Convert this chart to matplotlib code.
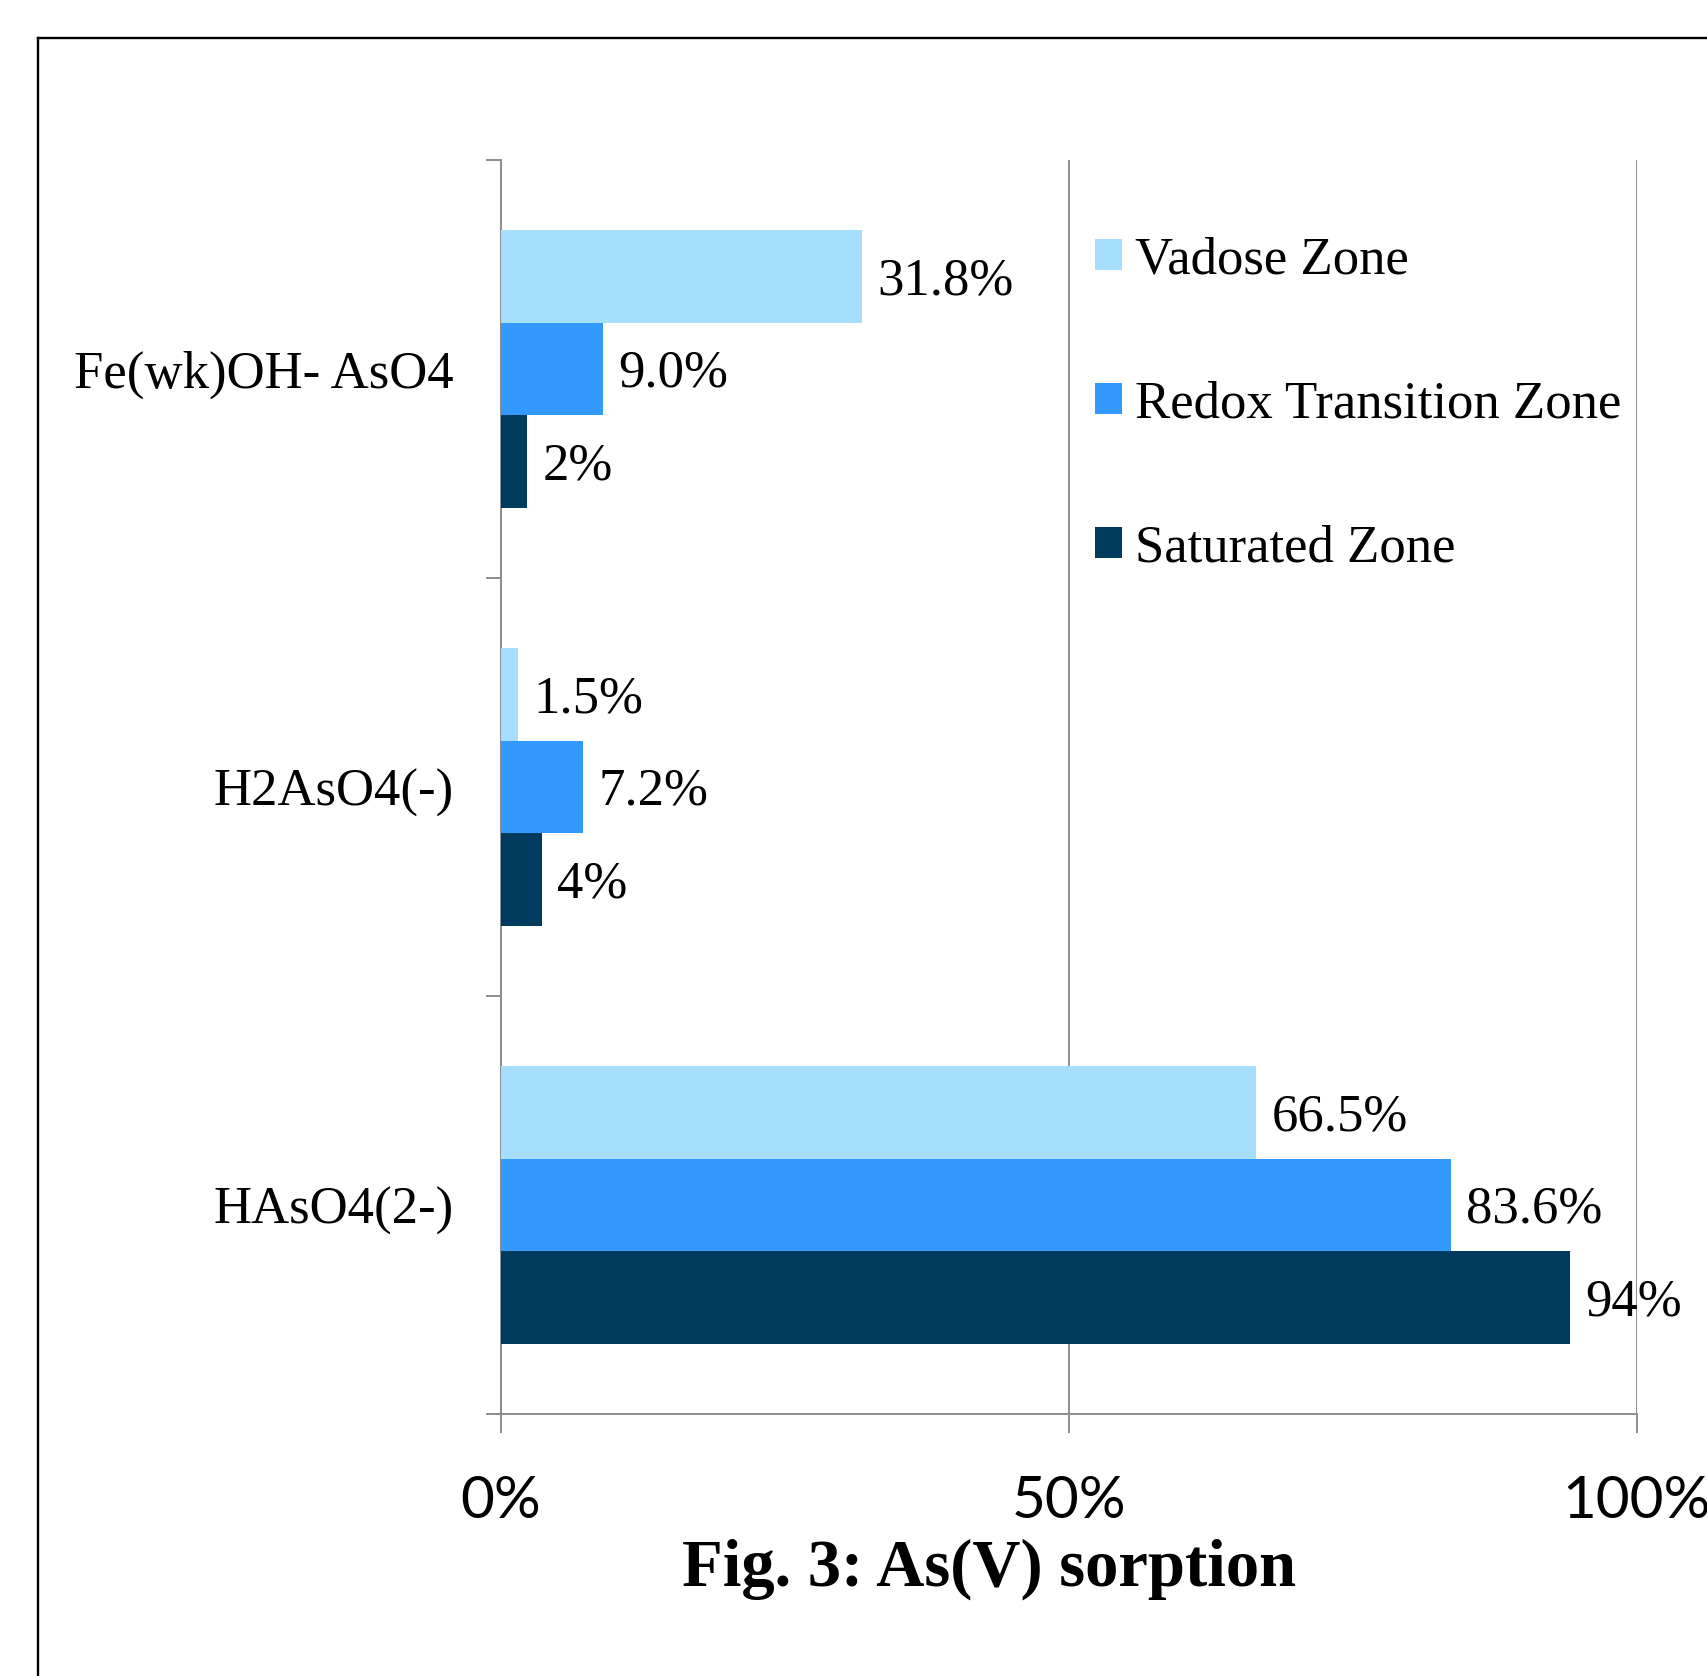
import matplotlib
matplotlib.use("Agg")
import matplotlib.pyplot as plt
from matplotlib.lines import Line2D
import numpy as np

# 数据
categories = ["HAsO4(2-)", "H2AsO4(-)", "Fe(wk)OH- AsO4"]
series_names = ["Vadose Zone", "Redox Transition Zone", "Saturated Zone"]
vadose = [66.5, 1.5, 31.8]
redox = [83.6, 7.2, 9.0]
saturated = [94.1, 3.6, 2.3]
label_fmts = ["{:.1f}%", "{:.1f}%", "{:.0f}%"]
colors = ["#A6DEFE", "#3399FF", "#003A5D"]
xtick_labels = ["0%", "50%", "100%"]

SERIF = "Liberation Serif"
GRAY = "#8C8C8C"

fig = plt.figure(figsize=(17.08, 16.76), dpi=100)
ax = fig.add_axes([0.2933, 0.1563, 0.6651, 0.7482])

y = np.arange(len(categories))
h = 1 / 4.5
offsets = [h, 0, -h]

for vals, off, col, name, fmt in zip([vadose, redox, saturated], offsets, colors,
                                     series_names, label_fmts):
    bars = ax.barh(y + off, vals, height=h, color=col, label=name, zorder=3)
    for b, v in zip(bars, vals):
        ax.annotate(fmt.format(v), (b.get_width(), b.get_y() + b.get_height() / 2),
                    xytext=(11, -3.5), textcoords="offset points",
                    ha="left", va="center", fontsize=38, family=SERIF,
                    annotation_clip=False, zorder=4)

ax.set_xlim(0, 100)
ax.set_ylim(-0.5, 2.5)

# x 轴
ax.set_xticks([0, 50, 100])
ax.set_xticklabels(xtick_labels, family="Lato", fontsize=42)
ax.tick_params(axis="x", length=14, width=1.4, color=GRAY, pad=30)
ax.xaxis.grid(True, color=GRAY, linewidth=1.4, zorder=1)

# y 轴: 刻度在类别之间, 标签在类别中心
ax.set_yticks([-0.5, 0.5, 1.5, 2.5])
ax.set_yticklabels([])
ax.tick_params(axis="y", which="major", length=11, width=1.4, color=GRAY)
ax.set_yticks(y, minor=True)
ax.set_yticklabels(categories, minor=True, family=SERIF, fontsize=38)
ax.tick_params(axis="y", which="minor", length=0, pad=34)

for s in ["top", "right"]:
    ax.spines[s].set_visible(False)
for s in ["left", "bottom"]:
    ax.spines[s].set_color(GRAY)
    ax.spines[s].set_linewidth(1.4)

# 图例
handles, labels = ax.get_legend_handles_labels()
fig.legend(handles, labels, loc="upper left", bbox_to_anchor=(0.6411, 0.859),
           bbox_transform=fig.transFigure, frameon=False, borderpad=0,
           borderaxespad=0, prop={"family": SERIF, "size": 38},
           handlelength=0.51, handleheight=0.51, handletextpad=0.25,
           labelspacing=1.82)

# 标题
fig.text(0.579, 0.0636, "Fig. 3: As(V) sorption", ha="center", va="center",
         fontsize=48, fontweight="bold", family=SERIF)

# 外框 (左上角)
bx, by = 38 / 1708, 1 - 38 / 1676
fig.add_artist(Line2D([bx, 1.01], [by, by], transform=fig.transFigure,
                      color="black", linewidth=1.7))
fig.add_artist(Line2D([bx, bx], [by, -0.01], transform=fig.transFigure,
                      color="black", linewidth=1.7))

fig.savefig("out.png", dpi=100)
